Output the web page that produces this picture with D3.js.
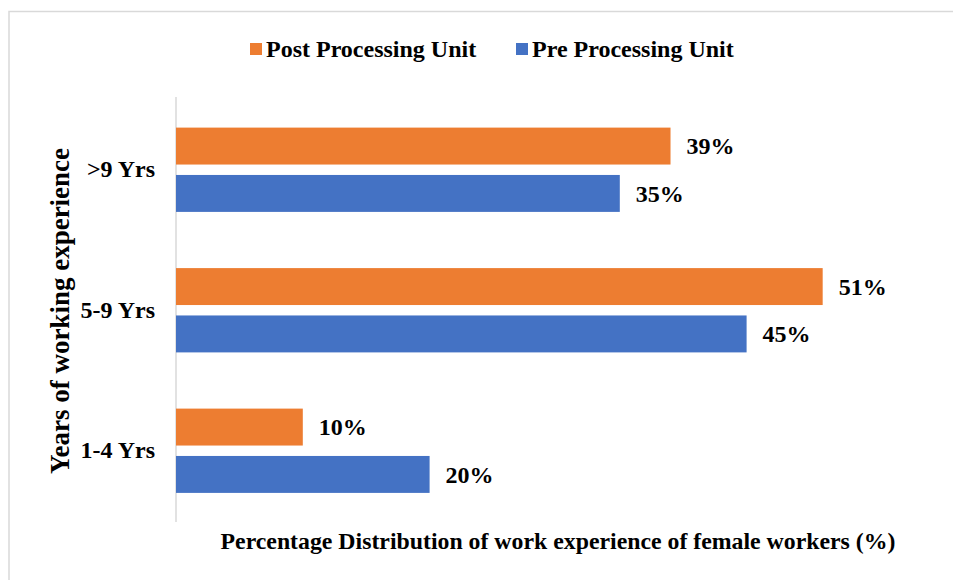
<!DOCTYPE html>
<html>
<head>
<meta charset="utf-8">
<script src="https://cdn.jsdelivr.net/npm/d3@7"></script>
<style>
  body { margin: 0; background: #fff; }
  text { font-family: "Liberation Serif", "Times New Roman", serif; font-weight: bold; fill: #000; }
</style>
</head>
<body>
<div id="chart"></div>
<script>
// data
var categories = [">9 Yrs", "5-9 Yrs", "1-4 Yrs"];
var seriesNames = ["Post Processing Unit", "Pre Processing Unit"];
var postValues = [39, 51, 10];
var preValues = [35, 45, 20];
var colors = ["#ED7D31", "#4472C4"];

var svgWidth = 953;
var svgHeight = 580;

var svg = d3.select("#chart")
    .append("svg")
    .attr("width", svgWidth)
    .attr("height", svgHeight);

// outer frame (cropped at right and bottom)
svg.append("rect")
    .attr("x", 9)
    .attr("y", 11.5)
    .attr("width", 960)
    .attr("height", 600)
    .attr("fill", "#fff")
    .attr("stroke", "#d9d9d9")
    .attr("stroke-width", 1.5);

var rows = categories.map(function(c, i) {
    return { cat: c, values: [postValues[i], preValues[i]] };
});

// scales
var xScale = d3.scaleLinear()
    .domain([0, 60])
    .range([176, 176 + 60 * 12.68]);

var yScale = d3.scaleBand()
    .domain(categories)
    .range([99.5, 521])
    .paddingInner(0.4)
    .paddingOuter(0.2);

var innerScale = d3.scaleBand()
    .domain(d3.range(seriesNames.length))
    .range([0, yScale.bandwidth()])
    .paddingInner(0.22);

// axis line
svg.append("line")
    .attr("x1", xScale(0))
    .attr("x2", xScale(0))
    .attr("y1", 97)
    .attr("y2", 522)
    .attr("stroke", "#d9d9d9")
    .attr("stroke-width", 1.5);

// bars
var groups = svg.selectAll(".group")
    .data(rows)
    .enter()
    .append("g")
    .attr("class", "group")
    .attr("transform", d => `translate(0, ${yScale(d.cat)})`);

groups.selectAll("rect")
    .data(d => d.values)
    .enter()
    .append("rect")
    .attr("x", xScale(0))
    .attr("y", (d, i) => innerScale(i))
    .attr("width", d => xScale(d) - xScale(0))
    .attr("height", innerScale.bandwidth())
    .attr("fill", (d, i) => colors[i]);

groups.selectAll(".val")
    .data(d => d.values)
    .enter()
    .append("text")
    .attr("class", "val")
    .attr("x", d => xScale(d) + 16)
    .attr("y", (d, i) => innerScale(i) + innerScale.bandwidth() / 2)
    .attr("dy", "0.35em")
    .attr("font-size", "24px")
    .text(d => d + "%");

// category labels
var yAxis = d3.axisLeft(yScale).tickSize(0).tickPadding(21);
var yAxisG = svg.append("g")
    .attr("transform", `translate(${xScale(0)}, 0)`)
    .call(yAxis);
yAxisG.select(".domain").remove();
yAxisG.selectAll("text")
    .attr("font-size", "24px")
    .attr("font-family", null)
    .attr("fill", "#000");

// y axis title
svg.append("text")
    .attr("transform", "translate(69, 311) rotate(-90)")
    .attr("text-anchor", "middle")
    .attr("font-size", "27px")
    .text("Years of working experience");

// x axis title
svg.append("text")
    .attr("x", 558)
    .attr("y", 549)
    .attr("text-anchor", "middle")
    .attr("font-size", "23.8px")
    .text("Percentage Distribution of work experience of female workers (%)");

// legend
var legendX = [250, 516];
var legend = svg.selectAll(".legend")
    .data(seriesNames)
    .enter()
    .append("g")
    .attr("class", "legend")
    .attr("transform", (d, i) => `translate(${legendX[i]}, 43)`);

legend.append("rect")
    .attr("width", 12)
    .attr("height", 12)
    .attr("fill", (d, i) => colors[i]);

legend.append("text")
    .attr("x", 16)
    .attr("y", 6)
    .attr("dy", "0.35em")
    .attr("font-size", "24px")
    .text(d => d);
</script>
</body>
</html>
